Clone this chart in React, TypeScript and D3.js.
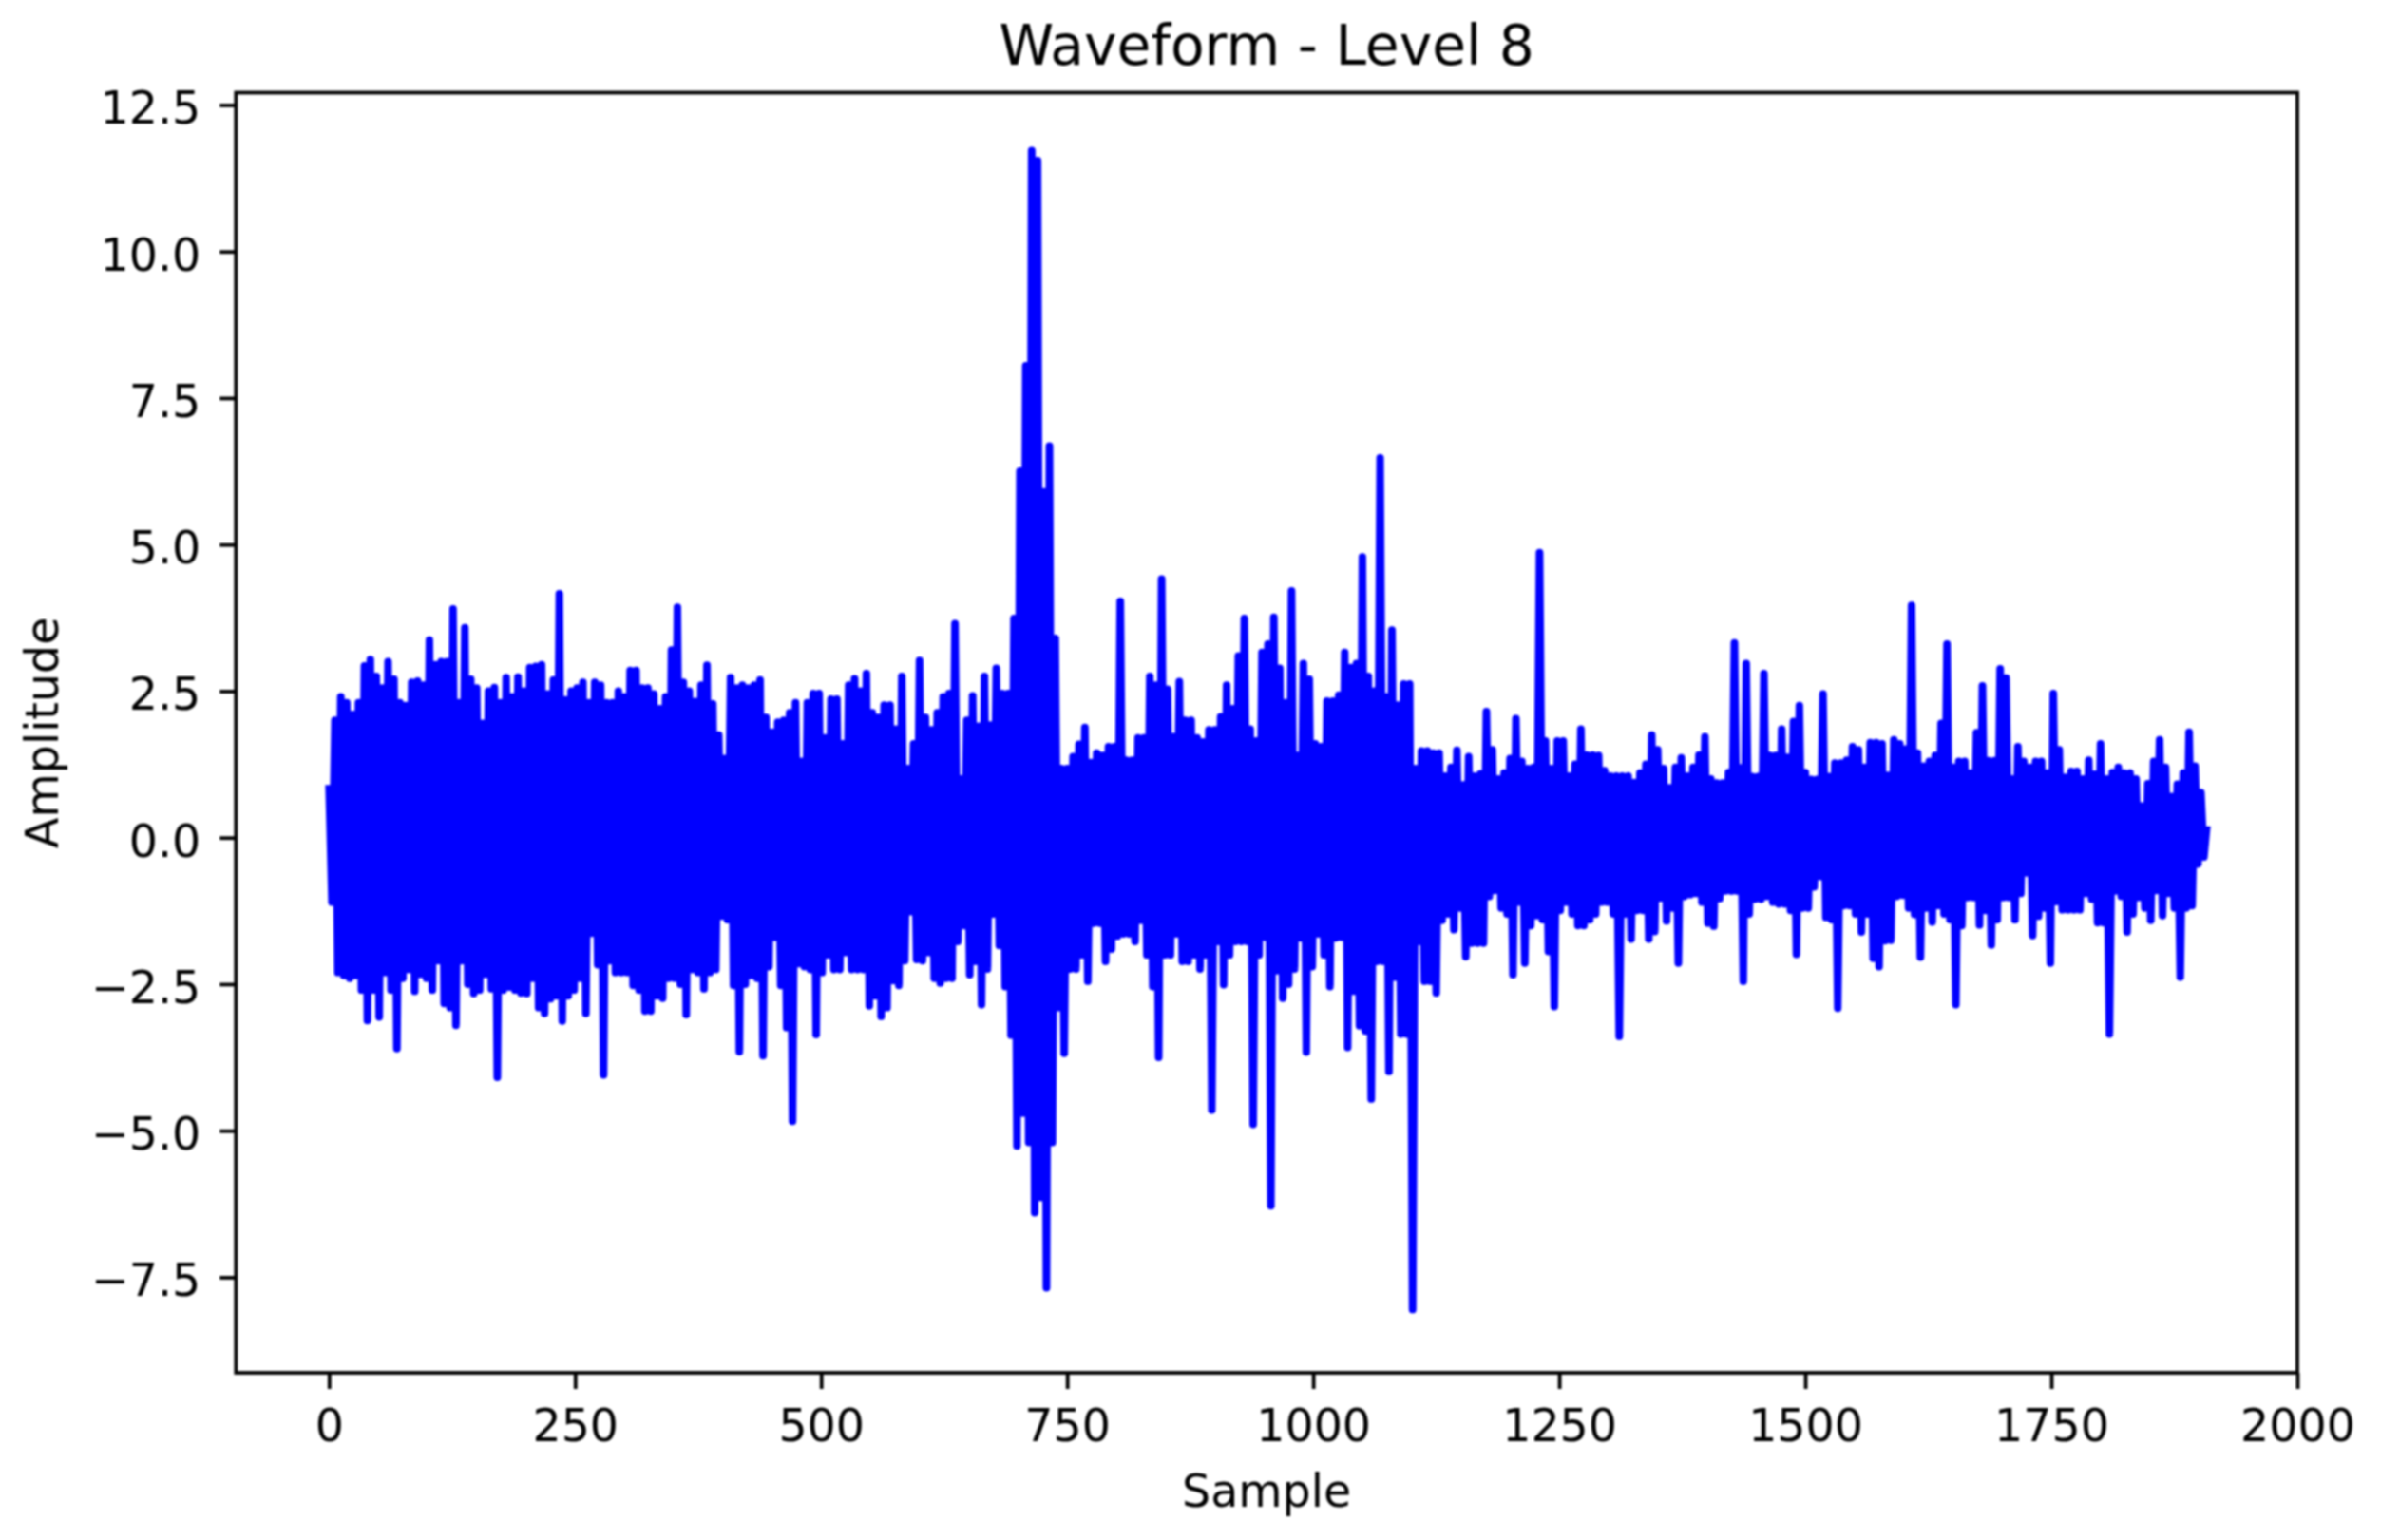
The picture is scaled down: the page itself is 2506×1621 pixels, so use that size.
import * as d3 from "d3";
import { useEffect, useRef } from "react";

const WIDTH = 2506;
const HEIGHT = 1621;

// envelope of the waveform, every 6 samples
const sampleStep = 6;

const upperStart = [
  0.9, 2.0, 2.4, 2.3, 2.1, 2.3, 2.93, 3.04, 2.75, 2.55,
  3.0, 2.7, 2.3, 2.25, 2.65, 2.67, 2.6, 3.37, 2.95, 3.0,
  3.0, 3.9, 2.3, 3.58, 2.7, 2.55, 1.95, 2.5, 2.56, 2.3,
  2.73, 2.4, 2.74, 2.5, 2.9, 2.92, 2.95, 2.45, 2.69, 4.16,
  2.35, 2.5, 2.55, 2.65, 2.3, 2.65, 2.6, 2.3, 2.3, 2.5,
  2.4, 2.85, 2.85, 2.55, 2.55, 2.45, 2.2, 2.4, 3.2, 3.93,
  2.65, 2.5, 2.32, 2.6, 2.94, 2.28, 1.75, 1.35, 2.73, 2.55,
  2.6, 2.55, 2.6, 2.69, 2.05, 1.8, 1.97, 2.0, 2.13, 2.3,
  1.3, 2.3, 2.46, 2.46, 1.7, 2.36, 2.36, 1.6, 2.6, 2.71,
  2.5, 2.8, 2.13, 2.05, 2.26, 2.26, 1.85, 2.75, 1.18, 1.6,
  3.02, 2.05, 1.84, 2.13, 2.4, 2.46,
];
const upperMiddle = [
  3.65, 1.0, 2.0, 2.42, 1.9, 2.75, 1.92, 2.89, 2.46, 2.46,
  3.74, 6.25, 8.05, 11.72, 11.55, 5.9, 6.68, 3.4, 1.18, 1.18,
  1.38, 1.59, 1.88, 1.28, 1.44, 1.4, 1.55, 1.55, 4.03, 1.32,
  1.32, 1.7, 1.7, 2.75, 2.6, 4.41, 2.53, 1.72, 2.66, 2.0,
  2.0, 1.7, 1.63, 1.84, 1.84, 2.06, 2.6, 2.2, 3.1, 3.74,
  1.85, 1.65, 3.16, 3.3, 3.76, 2.89, 2.3, 4.21, 1.4, 2.97,
  2.7, 1.6, 1.55, 2.33, 2.33, 2.43, 3.16, 2.9, 2.97, 4.79,
  2.75, 2.5, 6.48, 2.4, 3.54, 2.26, 2.62, 2.62, 1.18, 1.48,
  1.48, 1.44, 1.44, 1.05, 1.2, 1.49, 0.9, 1.38, 1.05, 1.09,
  2.15, 1.5, 1.0, 1.1, 1.35, 2.03, 1.3, 1.18, 1.2, 4.86,
  1.65, 1.18, 1.65, 1.65, 1.05, 1.25, 1.85, 1.41, 1.41, 1.4,
  1.14, 1.05, 1.05, 1.05, 1.05, 0.94, 1.1, 1.25, 1.75, 1.5,
  1.18, 0.85, 1.2, 1.36, 1.05, 1.2, 1.41, 1.72,
];
const upperEnd = [
  1.0, 0.93, 0.93, 1.11, 3.32, 1.19, 2.97, 1.04, 1.04, 2.8,
  1.4, 1.4, 1.85, 1.37, 1.98, 2.25, 1.11, 0.99, 0.99, 2.45,
  1.04, 1.27, 1.27, 1.32, 1.55, 1.5, 1.2, 1.62, 1.62, 1.6,
  1.06, 1.67, 1.6, 1.51, 3.96, 1.44, 1.22, 1.3, 1.4, 1.95,
  3.3, 1.2, 1.3, 1.3, 1.1, 1.79, 2.59, 1.31, 1.31, 2.88,
  2.72, 1.0, 1.55, 1.3, 1.2, 1.3, 1.3, 1.1, 2.46, 1.5,
  1.03, 1.13, 1.13, 1.0, 1.32, 1.08, 1.6, 1.0, 1.11, 1.2,
  1.1, 1.1, 1.0, 0.54, 0.92, 1.3, 1.67, 1.2, 0.7, 0.91,
  1.1, 1.8, 1.22, 0.77, 0.2,
];

const lowerStart = [
  -1.1, -2.3, -2.35, -2.4, -2.35, -2.6, -3.12, -2.6, -3.06, -2.3,
  -2.6, -3.6, -2.4, -2.25, -2.62, -2.33, -2.4, -2.6, -2.1, -2.83,
  -2.9, -3.2, -2.1, -2.5, -2.66, -2.6, -2.33, -2.58, -4.09, -2.6,
  -2.55, -2.6, -2.65, -2.66, -2.4, -2.9, -3.0, -2.75, -2.7, -3.13,
  -2.7, -2.6, -2.4, -3.0, -1.63, -2.17, -4.05, -2.1, -2.3, -2.3,
  -2.3, -2.52, -2.6, -2.96, -2.96, -2.7, -2.74, -2.4, -2.4, -2.5,
  -3.02, -2.25, -2.3, -2.58, -2.3, -2.25, -1.34, -1.4, -2.52, -3.65,
  -2.5, -2.35, -2.4, -3.72, -2.2, -1.7, -2.52, -3.24, -4.84, -2.15,
  -2.2, -2.25, -3.36, -2.3, -2.0, -2.25, -2.25, -1.96, -2.25, -2.25,
  -2.25, -2.87, -2.7, -3.05, -2.9, -2.44, -2.52, -2.1, -1.26, -2.08,
  -2.1, -1.96, -2.4, -2.48, -2.4, -2.4,
];
const lowerMiddle = [
  -1.77, -1.5, -2.34, -2.11, -2.85, -2.24, -1.3, -1.84, -2.54, -3.37,
  -5.26, -4.7, -5.2, -6.4, -6.14, -7.68, -5.2, -2.9, -3.68, -2.24,
  -2.24, -2.0, -2.45, -1.46, -1.46, -2.11, -1.9, -1.68, -1.64, -1.64,
  -1.77, -1.41, -2.0, -2.54, -3.75, -2.0, -2.0, -1.64, -2.11, -2.11,
  -2.0, -2.24, -2.0, -4.65, -1.77, -2.51, -2.0, -1.77, -1.77, -1.77,
  -4.89, -2.0, -1.7, -6.28, -2.27, -2.74, -2.5, -2.24, -1.71, -3.66,
  -2.2, -1.64, -2.0, -2.54, -1.71, -1.7, -3.58, -2.62, -3.21, -3.3,
  -4.46, -2.11, -2.11, -3.99, -2.38, -3.35, -3.35, -8.05, -1.77, -2.45,
  -2.45, -2.65, -1.41, -1.3, -1.57, -1.2, -2.03, -1.8, -1.8, -1.8,
  -1.0, -0.9, -1.2, -1.3, -2.34, -1.1, -2.14, -1.5, -1.33, -1.4,
  -1.94, -2.88, -1.24, -1.1, -1.3, -1.5, -1.5, -1.4, -1.3, -1.1,
  -1.1, -1.3, -3.39, -1.3, -1.73, -1.24, -1.24, -1.73, -1.6, -1.03,
  -1.42, -1.2, -2.14, -1.0, -0.97, -0.95, -1.1, -1.46,
];
const lowerEnd = [
  -1.51, -1.04, -0.91, -0.91, -0.91, -2.45, -1.3, -1.05, -1.05, -1.0,
  -1.1, -1.13, -1.13, -1.24, -1.99, -1.2, -1.2, -0.84, -0.66, -1.36,
  -1.4, -2.91, -1.16, -1.16, -1.3, -1.61, -1.3, -2.06, -2.2, -1.76,
  -1.75, -1.0, -0.98, -1.2, -1.31, -2.04, -1.2, -1.44, -1.16, -1.3,
  -1.4, -2.85, -1.5, -1.02, -1.02, -1.49, -1.24, -1.83, -1.4, -1.02,
  -1.02, -1.4, -0.95, -0.6, -1.67, -1.34, -1.2, -2.14, -1.09, -1.23,
  -1.23, -1.23, -1.23, -0.95, -1.05, -1.45, -1.45, -3.35, -0.91, -1.0,
  -1.61, -1.3, -1.02, -1.2, -1.41, -0.9, -1.33, -0.95, -1.2, -2.38,
  -1.2, -1.16, -0.45, -0.33,
];

const xTicks = [0, 250, 500, 750, 1000, 1250, 1500, 1750, 2000];
const yTicks = [-7.5, -5, -2.5, 0, 2.5, 5, 7.5, 10, 12.5];

const FONT = "'DejaVu Sans', sans-serif";

export default function App() {
  const svgRef = useRef<SVGSVGElement>(null);

  useEffect(() => {
    if (!svgRef.current) return;
    const svg = d3.select(svgRef.current);
    svg.selectAll("*").remove();

    const plot = { left: 248.3, right: 2418, top: 97.5, bottom: 1445 };
    const x = d3.scaleLinear().domain([-94.6, 2000]).range([plot.left, plot.right]);
    const y = d3.scaleLinear().domain([-9.13, 12.71]).range([plot.bottom, plot.top]);

    // the signal swings between both envelopes, half a step apart
    const upper = [...upperStart, ...upperMiddle, ...upperEnd];
    const lower = [...lowerStart, ...lowerMiddle, ...lowerEnd];
    const points: [number, number][] = upper.flatMap((u, i): [number, number][] =>
      i < lower.length
        ? [
            [i * sampleStep, u],
            [i * sampleStep + sampleStep / 2, lower[i]],
          ]
        : [[i * sampleStep, u]]
    );

    const line = d3
      .line<[number, number]>()
      .x((d) => x(d[0]))
      .y((d) => y(d[1]));

    svg
      .append("path")
      .attr("d", line(points))
      .attr("fill", "none")
      .attr("stroke", "#0000ff")
      .attr("stroke-width", 8)
      .attr("stroke-linejoin", "round");

    // frame
    svg
      .append("rect")
      .attr("x", plot.left)
      .attr("y", plot.top)
      .attr("width", plot.right - plot.left)
      .attr("height", plot.bottom - plot.top)
      .attr("fill", "none")
      .attr("stroke", "#000")
      .attr("stroke-width", 3.8);

    const xAxis = d3
      .axisBottom(x)
      .tickValues(xTicks)
      .tickSize(17)
      .tickPadding(21)
      .tickFormat((d) => String(d));
    const yAxis = d3
      .axisLeft(y)
      .tickValues(yTicks)
      .tickSize(17)
      .tickPadding(20)
      .tickFormat((d) => d3.format(".1f")(d as number).replace("-", "\u2212"));

    const gx = svg.append("g").attr("transform", `translate(0,${plot.bottom})`).call(xAxis);
    const gy = svg.append("g").attr("transform", `translate(${plot.left},0)`).call(yAxis);

    [gx, gy].forEach((g) => {
      g.select(".domain").remove();
      g.selectAll("line").attr("stroke", "#000").attr("stroke-width", 3.8);
      g.selectAll("text").attr("font-family", FONT).attr("font-size", 47.5).attr("fill", "#000");
    });
    gy.selectAll("text").attr("dy", "0.41em");

    svg
      .append("text")
      .attr("x", (plot.left + plot.right) / 2)
      .attr("y", 68)
      .attr("text-anchor", "middle")
      .attr("font-family", FONT)
      .attr("font-size", 58.3)
      .text("Waveform - Level 8");

    svg
      .append("text")
      .attr("x", (plot.left + plot.right) / 2)
      .attr("y", 1586)
      .attr("text-anchor", "middle")
      .attr("font-family", FONT)
      .attr("font-size", 47.5)
      .text("Sample");

    svg
      .append("text")
      .attr("transform", `translate(61,${(plot.top + plot.bottom) / 2}) rotate(-90)`)
      .attr("text-anchor", "middle")
      .attr("font-family", FONT)
      .attr("font-size", 47.5)
      .text("Amplitude");
  }, []);

  return (
    <svg
      ref={svgRef}
      width={WIDTH}
      height={HEIGHT}
      viewBox={`0 0 ${WIDTH} ${HEIGHT}`}
      style={{ position: "absolute", left: 0, top: 0, display: "block", background: "#fff", filter: "blur(1px)" }}
    />
  );
}
